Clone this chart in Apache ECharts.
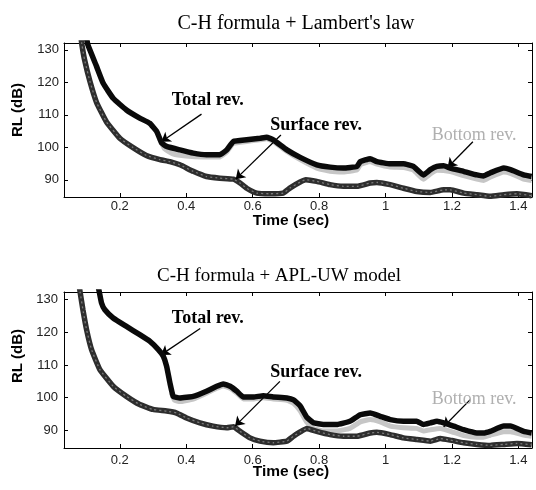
<!DOCTYPE html>
<html>
<head>
<meta charset="utf-8">
<script src="https://cdn.jsdelivr.net/npm/echarts@6/dist/echarts.min.js"></script>
<style>html,body{margin:0;padding:0;background:#fff}#c{width:536px;height:490px}</style>
</head>
<body>
<div id="c"></div>
<script>
// ---------- data ----------
const titles = ["C-H formula + Lambert's law", "C-H formula + APL-UW model"];
const xTickValues = [0.2, 0.4, 0.6, 0.8, 1, 1.2, 1.4];
const yTickValues = [90, 100, 110, 120, 130];
const xName = "Time (sec)";
const yName = "RL (dB)";
const seriesNames = ["Total rev.", "Surface rev.", "Bottom rev."];

const topTotal = [[0.099,134],[0.104,131.5],[0.130,124.9],[0.150,119.7],[0.180,115.1],[0.220,111.5],[0.260,109.0],[0.290,107.4],[0.311,104.9],[0.326,101.3],[0.341,100.3],[0.381,99.2],[0.421,98.2],[0.461,97.7],[0.501,97.7],[0.522,99.2],[0.542,101.8],[0.582,102.3],[0.622,102.8],[0.642,103.1],[0.662,102.3],[0.703,99.2],[0.743,96.9],[0.793,94.6],[0.833,93.9],[0.873,93.6],[0.914,94.1],[0.924,95.6],[0.954,96.5],[0.974,95.6],[1.014,94.9],[1.054,94.9],[1.084,94.1],[1.114,91.5],[1.135,93.1],[1.155,94.1],[1.175,94.3],[1.195,93.6],[1.235,92.6],[1.275,91.5],[1.295,91.2],[1.315,92.1],[1.356,93.6],[1.376,93.1],[1.416,91.5],[1.44,91.0]];
const topSurface = [[0.083,134],[0.086,131.5],[0.094,126.9],[0.110,120.3],[0.130,113.8],[0.160,107.8],[0.200,102.8],[0.240,99.9],[0.280,97.5],[0.321,96.2],[0.351,95.6],[0.381,94.6],[0.421,92.6],[0.461,91.0],[0.501,90.5],[0.542,90.2],[0.562,89.0],[0.582,87.4],[0.612,85.9],[0.652,85.7],[0.692,85.9],[0.713,87.5],[0.743,89.3],[0.760,90.0],[0.793,89.5],[0.833,88.5],[0.873,88.0],[0.914,88.0],[0.954,89.0],[0.974,89.2],[1.014,88.5],[1.054,87.4],[1.094,86.4],[1.135,86.1],[1.175,86.9],[1.195,86.9],[1.235,85.9],[1.275,85.4],[1.315,84.9],[1.356,85.4],[1.396,85.7],[1.44,85.1]];
const topBottom = [[0.320,102.5],[0.335,99.5],[0.360,98.0],[0.400,97.3],[0.450,97.0],[0.500,97.0],[0.522,98.6],[0.542,101.2],[0.582,101.8],[0.622,102.3],[0.642,102.6],[0.662,101.8],[0.703,98.7],[0.743,96.2],[0.793,93.6],[0.833,92.6],[0.873,92.4],[0.914,93.0],[0.924,94.6],[0.954,95.6],[0.974,94.8],[1.014,93.9],[1.054,93.8],[1.084,93.0],[1.114,90.2],[1.135,91.8],[1.155,92.9],[1.195,92.5],[1.235,91.3],[1.275,90.2],[1.295,89.8],[1.315,90.8],[1.356,92.4],[1.376,92.0],[1.416,90.2],[1.44,89.8]];

const botTotal = [[0.135,134],[0.138,132.5],[0.145,129.0],[0.155,126.9],[0.180,124.4],[0.220,121.8],[0.260,119.3],[0.290,117.3],[0.316,114.7],[0.331,112.7],[0.341,109.6],[0.351,104.5],[0.361,100.4],[0.381,99.9],[0.421,100.4],[0.461,102.0],[0.492,103.5],[0.511,104.2],[0.532,103.5],[0.552,102.0],[0.572,100.2],[0.602,100.2],[0.632,100.6],[0.662,100.2],[0.703,99.9],[0.723,99.3],[0.743,97.5],[0.763,94.0],[0.783,92.3],[0.813,91.8],[0.853,91.8],[0.893,92.8],[0.924,94.8],[0.954,95.3],[0.984,94.3],[1.014,93.3],[1.054,92.8],[1.094,92.8],[1.114,91.8],[1.135,92.3],[1.155,92.8],[1.175,92.3],[1.205,91.3],[1.235,90.2],[1.275,89.2],[1.295,89.2],[1.315,89.7],[1.356,91.3],[1.376,91.3],[1.416,89.7],[1.44,89.2]];
const botSurface = [[0.078,134],[0.081,132.0],[0.089,126.9],[0.100,120.8],[0.115,114.7],[0.140,108.6],[0.180,103.5],[0.220,100.4],[0.260,97.9],[0.300,96.4],[0.341,95.9],[0.371,95.3],[0.401,93.8],[0.441,92.3],[0.481,91.3],[0.522,90.8],[0.542,91.1],[0.562,89.7],[0.592,87.7],[0.622,86.7],[0.662,86.2],[0.703,86.7],[0.723,88.2],[0.743,89.5],[0.763,90.6],[0.793,89.7],[0.833,88.7],[0.873,88.2],[0.914,88.2],[0.954,89.2],[0.974,89.4],[1.014,88.7],[1.054,87.7],[1.094,87.2],[1.135,86.7],[1.165,87.5],[1.195,87.0],[1.235,86.2],[1.275,85.7],[1.315,85.4],[1.356,85.7],[1.396,86.0],[1.44,85.6]];
const botBottom = [[0.355,101.5],[0.365,99.2],[0.381,98.8],[0.421,99.6],[0.461,101.4],[0.492,102.9],[0.511,103.6],[0.532,102.9],[0.552,101.4],[0.572,99.6],[0.602,99.6],[0.632,100.0],[0.662,99.6],[0.703,99.2],[0.723,98.3],[0.743,96.0],[0.763,92.5],[0.783,90.6],[0.813,89.8],[0.853,89.8],[0.893,90.6],[0.924,92.6],[0.954,93.3],[0.984,92.6],[1.014,91.3],[1.054,90.8],[1.094,90.6],[1.114,89.8],[1.135,90.2],[1.165,90.6],[1.205,89.4],[1.235,88.4],[1.275,87.9],[1.295,87.9],[1.315,88.5],[1.356,89.6],[1.376,89.6],[1.416,88.6],[1.44,88.2]];

// annotation anchors (data coordinates)
const topArrows = [[[0.446,110.2],[0.325,101.7]], [[0.685,103.8],[0.549,90.2]], [[1.263,101.7],[1.187,93.8]]];
const botArrows = [[[0.442,121.2],[0.324,113.1]], [[0.682,105.0],[0.547,91.3]], [[1.255,99.4],[1.175,91.1]]];
const topLabelAt = [[0.465,114.3],[0.791,106.8],[1.267,103.8]];
const botLabelAt = [[0.465,124.3],[0.791,107.7],[1.267,99.4]];

// axis ranges per panel
const xRange = [0.032, 1.441];
const yRanges = [[84.7, 132.1], [84.6, 132.35]];

// ---------- chart ----------
const chart = echarts.init(document.getElementById('c'), null, {renderer: 'canvas'});
const grids = [
  {left: 64, right: 4, top: 43, height: 154},
  {left: 64, right: 4, top: 292, height: 156}
];
const tickLabelStyle = {color: '#222', fontSize: 13, fontFamily: 'Liberation Sans'};
const xAxes = [], yAxes = [];
const labelMargins = [[3, 5], [6, 6]];
[0, 1].forEach(g => {
  xAxes.push({
    type: 'value', gridIndex: g, position: 'bottom', min: xRange[0], max: xRange[1],
    axisLine: {lineStyle: {color: '#000', width: 1}},
    axisTick: {inside: true, length: 4, customValues: xTickValues, lineStyle: {color: '#000'}},
    axisLabel: Object.assign({customValues: xTickValues, margin: labelMargins[g][0]}, tickLabelStyle),
    splitLine: {show: false}
  });
  xAxes.push({
    type: 'value', gridIndex: g, position: 'top', min: xRange[0], max: xRange[1],
    axisLine: {lineStyle: {color: '#000', width: 1}},
    axisTick: {inside: true, length: 4, customValues: xTickValues, lineStyle: {color: '#000'}},
    axisLabel: {show: false}, splitLine: {show: false}
  });
  yAxes.push({
    type: 'value', gridIndex: g, position: 'left', min: yRanges[g][0], max: yRanges[g][1],
    axisLine: {show: true, lineStyle: {color: '#000', width: 1}},
    axisTick: {show: true, inside: true, length: 4, customValues: yTickValues, lineStyle: {color: '#000'}},
    axisLabel: Object.assign({customValues: yTickValues, margin: labelMargins[g][1]}, tickLabelStyle),
    splitLine: {show: false}
  });
  yAxes.push({
    type: 'value', gridIndex: g, position: 'right', min: yRanges[g][0], max: yRanges[g][1],
    axisLine: {show: true, lineStyle: {color: '#000', width: 1}},
    axisTick: {show: true, inside: true, length: 4, customValues: yTickValues, lineStyle: {color: '#000'}},
    axisLabel: {show: false}, splitLine: {show: false}
  });
});

const panels = [
  {total: topTotal, surface: topSurface, bottom: topBottom, arrows: topArrows, labels: topLabelAt},
  {total: botTotal, surface: botSurface, bottom: botBottom, arrows: botArrows, labels: botLabelAt}
];
const SM = 0.12;
const series = [];
panels.forEach((p, g) => {
  const ax = {xAxisIndex: g * 2, yAxisIndex: g * 2};
  series.push(Object.assign({
    type: 'line', name: seriesNames[2], data: p.bottom, showSymbol: false, smooth: SM,
    lineStyle: {color: '#c6c6c6', width: 5}, z: 2
  }, ax));
  series.push(Object.assign({
    type: 'line', name: seriesNames[1], data: p.surface, showSymbol: false, smooth: SM,
    lineStyle: {color: '#2e2e2e', width: 5.5}, z: 3
  }, ax));
  series.push(Object.assign({
    type: 'line', name: seriesNames[1] + ' ', data: p.surface, showSymbol: false, smooth: SM,
    lineStyle: {color: '#7a7a7a', width: 1.3, type: [2, 3]}, z: 4
  }, ax));
  series.push(Object.assign({
    type: 'line', name: seriesNames[0], data: p.total, showSymbol: false, smooth: SM,
    lineStyle: {color: '#0a0a0a', width: 5.5}, z: 5,
    markLine: {
      silent: true, symbol: ['none', 'arrow'], symbolSize: 9,
      lineStyle: {color: '#000', width: 1.3, type: 'solid'},
      label: {show: false},
      data: p.arrows.map(a => [{coord: a[0]}, {coord: a[1]}])
    },
    markPoint: {
      silent: true, symbol: 'circle', symbolSize: 0,
      data: p.labels.map((c, i) => ({
        coord: c, name: seriesNames[i],
        label: i === 2
          ? {show: true, position: 'inside', formatter: '{b}', fontFamily: 'Liberation Serif', fontSize: 18, fontWeight: 'normal', color: '#b0b0b0'}
          : {show: true, position: 'inside', formatter: '{b}', fontFamily: 'Liberation Serif', fontSize: 18, fontWeight: 'bold', color: '#000'}
      }))
    }
  }, ax));
});

chart.setOption({
  animation: false,
  backgroundColor: '#fff',
  title: [
    {text: titles[0], left: 291, top: 9, textAlign: 'center',
     textStyle: {fontFamily: 'Liberation Serif', fontWeight: 'normal', fontSize: 20, color: '#000'}},
    {text: titles[1], left: 274, top: 262, textAlign: 'center',
     textStyle: {fontFamily: 'Liberation Serif', fontWeight: 'normal', fontSize: 19, color: '#000'}}
  ],
  grid: grids,
  xAxis: xAxes,
  yAxis: yAxes,
  series: series,
  graphic: [
    {type: 'text', x: 18, y: 110, rotation: Math.PI / 2,
     style: {text: yName, fontFamily: 'Liberation Sans', fontWeight: 'bold', fontSize: 15, fill: '#000', align: 'center', verticalAlign: 'middle'}},
    {type: 'text', x: 18, y: 356, rotation: Math.PI / 2,
     style: {text: yName, fontFamily: 'Liberation Sans', fontWeight: 'bold', fontSize: 15, fill: '#000', align: 'center', verticalAlign: 'middle'}},
    {type: 'text', x: 291, y: 221,
     style: {text: xName, fontFamily: 'Liberation Sans', fontWeight: 'bold', fontSize: 15.5, fill: '#000', align: 'center', verticalAlign: 'middle'}},
    {type: 'text', x: 291, y: 472,
     style: {text: xName, fontFamily: 'Liberation Sans', fontWeight: 'bold', fontSize: 15.5, fill: '#000', align: 'center', verticalAlign: 'middle'}}
  ]
});
</script>
</body>
</html>
